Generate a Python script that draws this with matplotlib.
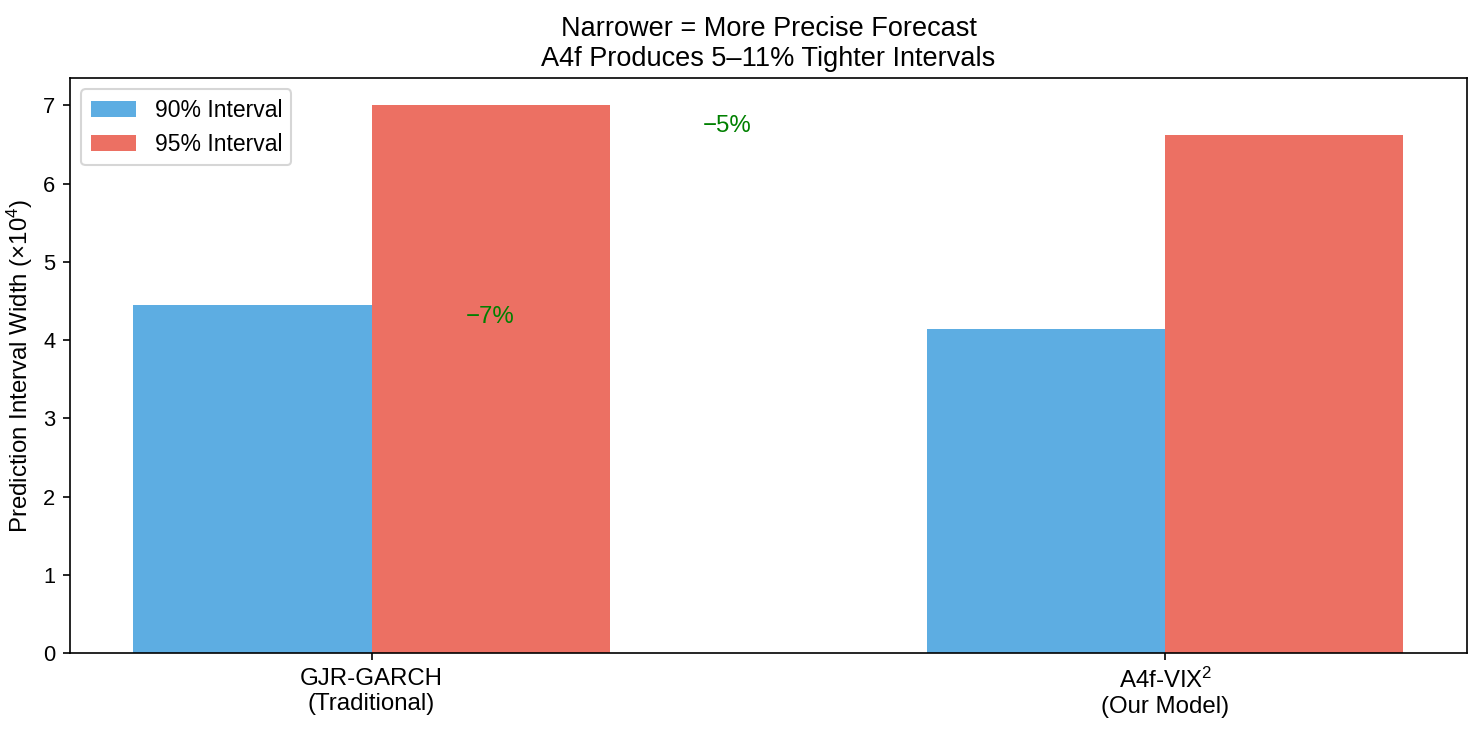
import matplotlib
matplotlib.use("Agg")
import matplotlib.pyplot as plt
import numpy as np

plt.rcParams['font.family'] = ['Liberation Sans', 'DejaVu Sans']
plt.rcParams['mathtext.fontset'] = 'custom'
plt.rcParams['mathtext.rm'] = 'Liberation Sans'
plt.rcParams['mathtext.it'] = 'Liberation Sans:italic'

# data
models = ["GJR-GARCH\n(Traditional)", "A4f-VIX$^2$\n(Our Model)"]
width_90 = [4.445, 4.138]
width_95 = [7.00, 6.616]
series_names = ["90% Interval", "95% Interval"]
pct_labels = ["\u22127%", "\u22125%"]
pct_x = [0.149, 0.448]
pct_y = [4.30, 6.74]

fig, ax = plt.subplots(figsize=(1483 / 150, 732 / 150), dpi=150)
fig.subplots_adjust(left=0.0472, right=0.9892, bottom=0.1079, top=0.8934)

x = np.arange(len(models))
bw = 0.3
ax.bar(x - bw / 2, width_90, bw, color="#5DADE2", label=series_names[0])
ax.bar(x + bw / 2, width_95, bw, color="#EC7063", label=series_names[1])

# reduction labels
for lbl, px, py in zip(pct_labels, pct_x, pct_y):
    ax.text(px, py, lbl, color="green", fontsize=11.5, ha="center", va="center")

ax.set_xticks(x)
ax.set_xticklabels(models, fontsize=11.5)
ax.tick_params(axis="y", labelsize=10.5)
ax.set_ylabel("Prediction Interval Width (×10$^4$)", fontsize=11.5)
ax.set_title("Narrower = More Precise Forecast\nA4f Produces 5\u201311% Tighter Intervals", fontsize=13)
ax.legend(loc="upper left", fontsize=11)

fig.savefig("out.png", dpi=150)
